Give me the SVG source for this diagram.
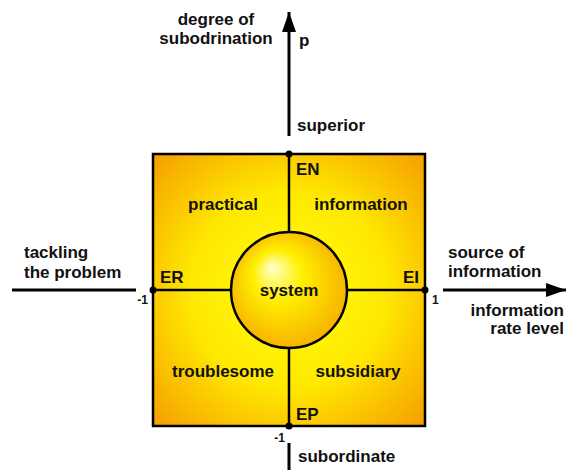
<svg xmlns="http://www.w3.org/2000/svg" width="571" height="470" viewBox="0 0 571 470">
<defs>
<radialGradient id="sq" cx="0.5" cy="0.5" r="0.72">
<stop offset="0" stop-color="#FFFF10"/>
<stop offset="0.5" stop-color="#FFE800"/>
<stop offset="1" stop-color="#F59A00"/>
</radialGradient>
<radialGradient id="ci" cx="0.5" cy="0.5" fx="0.35" fy="0.3" r="0.6">
<stop offset="0" stop-color="#FFFFD0"/>
<stop offset="0.35" stop-color="#FFF000"/>
<stop offset="1" stop-color="#F5A400"/>
</radialGradient>
<marker id="big" viewBox="0 0 20 14" refX="20" refY="7" markerWidth="20" markerHeight="14" markerUnits="userSpaceOnUse" orient="auto">
<path d="M0,0 L20,7 L0,14 z" fill="#000"/>
</marker>
</defs>
<style>
text{font-family:"Liberation Sans",Arial,sans-serif;font-weight:bold;font-size:17px;fill:#111}
.s{font-size:12px}
.ln{stroke:#000;stroke-width:3;fill:none}
.in{stroke:#000;stroke-width:2.5;fill:none}
</style>
<g id="square">
<rect x="153" y="154" width="272" height="272" fill="url(#sq)" stroke="#000" stroke-width="2.5"/>
</g>
<g id="connectors">
<line class="in" x1="289" y1="154" x2="289" y2="232"/>
<line class="in" x1="289" y1="348" x2="289" y2="426"/>
<line class="in" x1="153" y1="290" x2="231" y2="290"/>
<line class="in" x1="347" y1="290" x2="425" y2="290"/>
<line class="ln" x1="289" y1="136" x2="289" y2="12" marker-end="url(#big)"/>
<line class="ln" x1="289" y1="443" x2="289" y2="470"/>
<line class="ln" x1="12" y1="290" x2="136" y2="290"/>
<line class="ln" x1="443" y1="290" x2="566" y2="290" marker-end="url(#big)"/>
<circle cx="289" cy="154" r="3.5" fill="#000"/>
<circle cx="289" cy="426" r="3.5" fill="#000"/>
<circle cx="153" cy="290" r="3.5" fill="#000"/>
<circle cx="425" cy="290" r="3.5" fill="#000"/>
</g>
<g id="system">
<circle cx="289" cy="290" r="58" fill="url(#ci)" stroke="#000" stroke-width="2.5"/>
<text x="289" y="296" text-anchor="middle">system</text>
</g>
<g id="quadrants">
<text x="223" y="210" text-anchor="middle">practical</text>
<text x="361" y="210" text-anchor="middle">information</text>
<text x="223" y="377" text-anchor="middle">troublesome</text>
<text x="358" y="377" text-anchor="middle">subsidiary</text>
<text x="296" y="175">EN</text>
<text x="160" y="283">ER</text>
<text x="419" y="283" text-anchor="end">EI</text>
<text x="296" y="420">EP</text>
</g>
<g id="axis-labels">
<text x="216" y="25" text-anchor="middle">degree of</text>
<text x="216" y="44" text-anchor="middle">subodrination</text>
<text x="299" y="46">p</text>
<text x="297" y="131">superior</text>
<text x="24" y="258">tackling</text>
<text x="24" y="278">the problem</text>
<text x="448" y="258">source of</text>
<text x="448" y="277">information</text>
<text x="564" y="316" text-anchor="end">information</text>
<text x="564" y="334" text-anchor="end">rate level</text>
<text x="298" y="462">subordinate</text>
<text class="s" x="148" y="304" text-anchor="end">-1</text>
<text class="s" x="432" y="304">1</text>
<text class="s" x="285" y="442" text-anchor="end">-1</text>
</g>
</svg>
